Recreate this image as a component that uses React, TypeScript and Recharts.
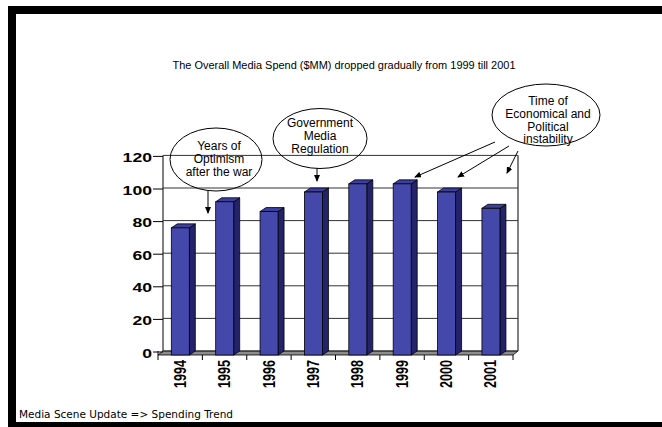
import React from 'react';
import { BarChart, Bar, XAxis, YAxis, CartesianGrid } from 'recharts';

const years = ['1994', '1995', '1996', '1997', '1998', '1999', '2000', '2001'];
const spend = [78, 94, 88, 100, 105, 105, 100, 90];
const yTicks = [0, 20, 40, 60, 80, 100, 120];

const data = years.map((year, i) => ({ year, spend: spend[i] }));

// layout
const W = 662;
const H = 427;
const LEFT = 158;
const RIGHT = 513;
const TOP = 159.4;
const BOTTOM = 355;
const Y_AXIS_W = 60;
const X_AXIS_H = 40;
const WALL_DX = 5;
const WALL_DY = 4;
const BAR_DX = 6;
const BAR_DY = 4;

const SANS = '"Liberation Sans", Arial, sans-serif';

function Bar3D(props: any) {
  const { x, y, width, height } = props;
  const r = x + width;
  const b = y + height;
  const side = `${r},${y} ${r + BAR_DX},${y - BAR_DY} ${r + BAR_DX},${b - BAR_DY} ${r},${b}`;
  const top = `${x},${y} ${x + BAR_DX},${y - BAR_DY} ${r + BAR_DX},${y - BAR_DY} ${r},${y}`;
  return (
    <g>
      <polygon points={side} fill="#23236B" stroke="#000" strokeWidth={0.8} />
      <polygon points={top} fill="#3C3F9E" stroke="#000" strokeWidth={0.8} />
      <rect x={x} y={y} width={width} height={height} fill="#4548AB" stroke="#000" strokeWidth={0.8} />
    </g>
  );
}

function YTick({ y, payload }: any) {
  return (
    <g>
      <line x1={LEFT - 5} y1={y - WALL_DY + 1} x2={LEFT + WALL_DX} y2={y - WALL_DY + 1} stroke="#000" />
      <text
        transform={`translate(${LEFT - 6},${y - 2}) scale(1.4,1)`}
        textAnchor="end"
        dominantBaseline="central"
        fontFamily={SANS}
        fontWeight="bold"
        fontSize={12.6}
        fill="#000"
      >
        {payload.value}
      </text>
    </g>
  );
}

function XTick({ x, payload }: any) {
  return (
    <text
      transform={`translate(${x},${BOTTOM + 5}) scale(1.3,1) rotate(-90)`}
      textAnchor="end"
      dominantBaseline="central"
      fontFamily={SANS}
      fontWeight="bold"
      fontSize={12.6}
      fill="#000"
    >
      {payload.value}
    </text>
  );
}

function GridLine(p: any) {
  return (
    <line
      key={p.key}
      x1={p.x1 + WALL_DX}
      y1={p.y1 - WALL_DY}
      x2={p.x2 + WALL_DX}
      y2={p.y2 - WALL_DY}
      stroke="#333"
      strokeWidth={1}
    />
  );
}

// floor, wall edges and category tick marks
function Frame() {
  const step = (RIGHT - LEFT) / years.length;
  const floor = `${LEFT},${BOTTOM} ${RIGHT},${BOTTOM} ${RIGHT + WALL_DX},${BOTTOM - WALL_DY} ${LEFT + WALL_DX},${BOTTOM - WALL_DY}`;
  return (
    <svg width={W} height={H} style={{ position: 'absolute', left: 0, top: 0 }}>
      <polygon points={floor} fill="#8C8C8C" stroke="#000" strokeWidth={0.8} />
      <line x1={LEFT + WALL_DX} y1={TOP - WALL_DY} x2={LEFT + WALL_DX} y2={BOTTOM - WALL_DY} stroke="#000" />
      <line x1={RIGHT + WALL_DX} y1={TOP - WALL_DY} x2={RIGHT + WALL_DX} y2={BOTTOM - WALL_DY} stroke="#000" />
      <line x1={LEFT} y1={BOTTOM} x2={LEFT} y2={BOTTOM - 4} stroke="#000" />
      {years.concat(['']).map((_, i) => (
        <line key={i} x1={LEFT + i * step} y1={BOTTOM} x2={LEFT + i * step} y2={BOTTOM + 5} stroke="#000" />
      ))}
    </svg>
  );
}

const notes = [
  { cx: 216, cy: 159.5, rx: 46, ry: 31.5, tx: 219, lines: ['Years of', 'Optimism', 'after the war'], y0: 146 },
  { cx: 320, cy: 138.5, rx: 47, ry: 30, tx: 320, lines: ['Government', 'Media', 'Regulation'], y0: 123 },
  { cx: 546, cy: 115, rx: 54, ry: 31, tx: 548, lines: ['Time of', 'Economical and', 'Political', 'instability'], y0: 101 },
];

const arrows = [
  [208, 191, 208, 213],
  [317, 168, 317, 181],
  [495, 142, 415, 177],
  [509, 146, 458, 177],
  [518, 151, 507, 173],
];

function Overlay() {
  return (
    <svg width={W} height={H} style={{ position: 'absolute', left: 0, top: 0, pointerEvents: 'none' }}>
      <defs>
        <marker id="ah" markerWidth="7" markerHeight="6" refX="6" refY="3" orient="auto" markerUnits="userSpaceOnUse">
          <path d="M0,0 L7,3 L0,6 z" fill="#000" />
        </marker>
      </defs>
      <rect x={8} y={6} width={654} height={8} fill="#000" />
      <rect x={8} y={6} width={8} height={421} fill="#000" />
      <rect x={8} y={422} width={654} height={5} fill="#000" />
      <text x={344} y={65} textAnchor="middle" dominantBaseline="central" fontFamily={SANS} fontSize={10} textLength={343} lengthAdjust="spacingAndGlyphs" fill="#000">
        The Overall Media Spend ($MM) dropped gradually from 1999 till 2001
      </text>
      {notes.map((n, i) => (
        <g key={i}>
          <ellipse cx={n.cx} cy={n.cy} rx={n.rx} ry={n.ry} fill="none" stroke="#000" strokeWidth={1} />
          {n.lines.map((l, j) => (
            <text key={j} x={n.tx} y={n.y0 + j * 12.8} textAnchor="middle" dominantBaseline="central" fontFamily={SANS} fontSize={12} fill="#000">
              {l}
            </text>
          ))}
        </g>
      ))}
      {arrows.map((a, i) => (
        <line key={i} x1={a[0]} y1={a[1]} x2={a[2]} y2={a[3]} stroke="#000" strokeWidth={1} markerEnd="url(#ah)" />
      ))}
      <text x={19} y={418} fontFamily='"DejaVu Sans", Verdana, sans-serif' fontSize={10.4} textLength={214} lengthAdjust="spacingAndGlyphs" fill="#000">
        Media Scene Update =&gt; Spending Trend
      </text>
    </svg>
  );
}

export default function App() {
  return (
    <div style={{ position: 'absolute', left: 0, top: 0, width: W, height: H, background: '#fff' }}>
      <Frame />
      <div style={{ position: 'absolute', left: 0, top: 0 }}>
        <BarChart
          width={W}
          height={H}
          data={data}
          margin={{ top: TOP, left: LEFT - Y_AXIS_W, right: W - RIGHT, bottom: H - BOTTOM - X_AXIS_H }}
          barCategoryGap="30%"
        >
          <CartesianGrid vertical={false} horizontal={GridLine} />
          <XAxis dataKey="year" height={X_AXIS_H} axisLine={false} tickLine={false} tick={XTick} interval={0} />
          <YAxis domain={[0, 120]} ticks={yTicks} width={Y_AXIS_W} axisLine={false} tickLine={false} tick={YTick} interval={0} />
          <Bar dataKey="spend" shape={Bar3D} isAnimationActive={false} />
        </BarChart>
      </div>
      <Overlay />
    </div>
  );
}
